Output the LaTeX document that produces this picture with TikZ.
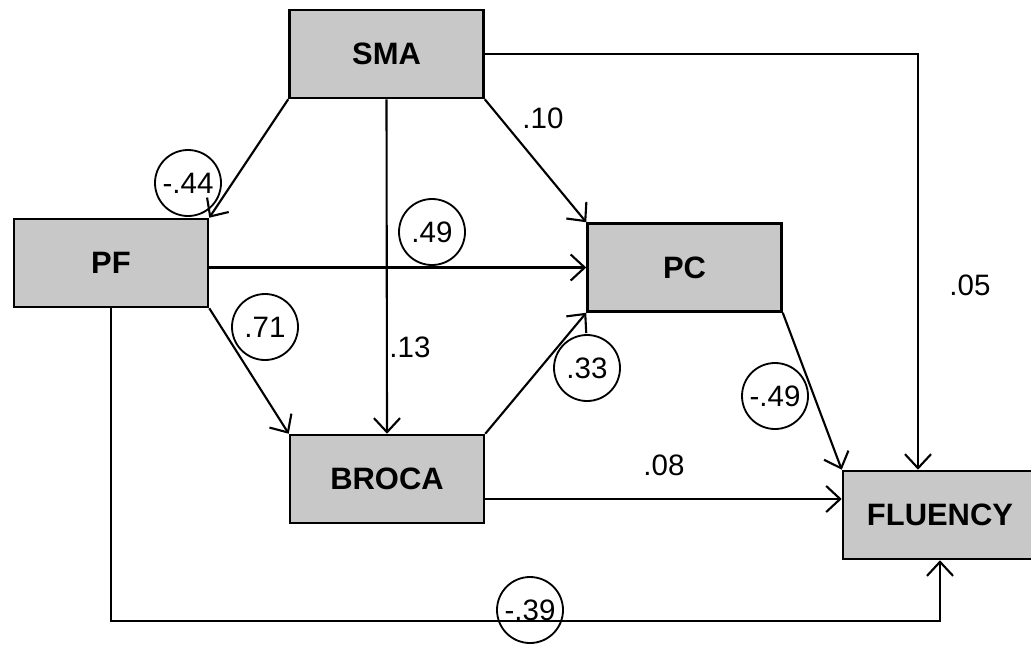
\documentclass[tikz,border=0pt]{standalone}
\usepackage{fontspec}
\setmainfont{Liberation Sans}
\usepackage{tikz}
\usetikzlibrary{arrows.meta,positioning}
\definecolor{boxGray}{RGB}{200,200,200}

\begin{document}
\begin{tikzpicture}[x=0.25mm,y=-0.25mm,
  box/.style={draw, line width=1.8pt, fill=boxGray, minimum width=48.5mm, minimum height=22mm, inner sep=0pt, font=\fontsize{22}{24}\selectfont\bfseries},
  weight/.style={draw, circle, line width=1.3pt, minimum size=16.5mm, inner sep=0pt, font=\fontsize{21}{24}\selectfont},
  coef/.style={font=\fontsize{21}{24}\selectfont},
  link/.style={line width=1.5pt, -{Straight Barb[length=3.5mm,width=6.5mm,line width=1.5pt]}}]
\useasboundingbox (0,0) rectangle (1031,651);

\node[box] (sma) at (386.5,54) {SMA};
\node[box] (pf) at (111,263) {PF};
\node[box] (pc) at (684.5,267.5) {PC};
\node[box] (broca) at (387,479) {BROCA};
\node[box] (fluency) at (940,515) {FLUENCY};

\draw[link] (sma.south west) -- (pf.north east);
\draw[link] (sma.south) -- (broca.north);
\draw[link] (sma.south east) -- (pc.north west);
\draw[link] (sma.east) -| ([xshift=-5.5mm]fluency.north);
\draw[link] (pf.east |- pc.west) -- (pc.west);
\draw[link] (pf.south east) -- (broca.north west);
\draw[link] (broca.north east) -- (pc.south west);
\draw[link] (pc.south east) -- (fluency.north west);
\draw[link] ([yshift=-5mm]broca.east) -- ([yshift=-5mm]broca.east -| fluency.west);
\draw[link] (pf.south) -- ++(0,313) -| (fluency.south);

\node[weight] (wSmaPf) at (188,183) {-.44};
\node[coef] (cSmaPc) at (543,118) {.10};
\node[weight] (wPfPc) at (432,232) {.49};
\node[weight] (wPfBroca) at (265,327) {.71};
\node[coef] (cSmaBroca) at (410,347) {.13};
\node[weight] (wBrocaPc) at (587,368) {.33};
\node[weight] (wPcFluency) at (775,396) {-.49};
\node[coef] (cSmaFluency) at (970,285) {.05};
\node[coef] (cBrocaFluency) at (664,465) {.08};
\node[weight] (wPfFluency) at (530,610) {-.39};
\end{tikzpicture}
\end{document}
